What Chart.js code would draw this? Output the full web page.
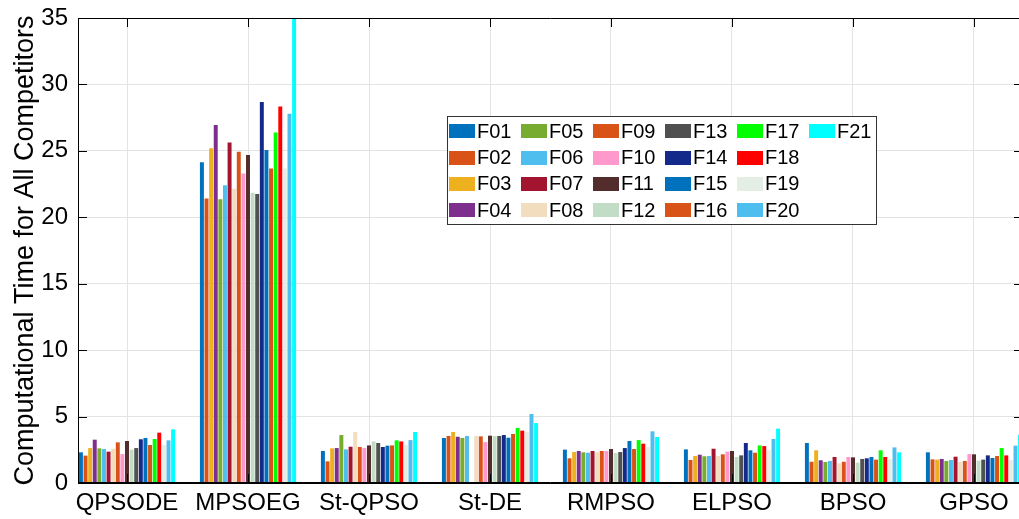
<!DOCTYPE html>
<html>
<head>
<meta charset="utf-8">
<title>Computational Time for All Competitors</title>
<script src="https://cdn.jsdelivr.net/npm/chart.js@4.4.0/dist/chart.umd.min.js"></script>
<style>
  html, body { margin: 0; padding: 0; background: #fff; overflow: hidden; }
  #wrap { position: relative; width: 1032px; height: 519px; }
</style>
</head>
<body>
<div id="wrap"><canvas id="timeChart"></canvas></div>
<script>
// Algorithms on the x axis
const categories = ['QPSODE', 'MPSOEG', 'St-QPSO', 'St-DE', 'RMPSO', 'ELPSO', 'BPSO', 'GPSO'];

// Benchmark functions (one bar per function inside each group)
const functions = ['F01', 'F02', 'F03', 'F04', 'F05', 'F06', 'F07', 'F08', 'F09', 'F10', 'F11',
                   'F12', 'F13', 'F14', 'F15', 'F16', 'F17', 'F18', 'F19', 'F20', 'F21'];

const funcColors = ['#0072BD', '#D95319', '#EDB120', '#7E2F8E', '#77AC30', '#4DBEEE', '#A2142F',
                    '#F2DEBF', '#D95319', '#FF99CC', '#532D2B', '#C2DDC5', '#505050', '#142A8A',
                    '#0072BD', '#D95319', '#00FF00', '#FF0000', '#E4EEE4', '#4DBEEE', '#00FFFF'];

// Computational time per algorithm, F01..F21
const qpsode = [2.31, 2.06, 2.63, 3.26, 2.61, 2.56, 2.36, 2.58, 3.06, 2.18, 3.16, 2.51, 2.63, 3.29, 3.39, 2.86, 3.31, 3.79, 2.86, 3.21, 4.04];
const mpsoeg = [24.15, 21.42, 25.2, 26.94, 21.35, 22.42, 25.63, 22.12, 24.93, 23.3, 24.68, 21.85, 21.75, 28.67, 25.06, 23.68, 26.39, 28.34, 23.68, 27.79, 35.0];
const stqpso = [2.41, 1.63, 2.61, 2.63, 3.61, 2.53, 2.73, 3.84, 2.71, 2.63, 2.83, 3.13, 3.01, 2.71, 2.81, 2.83, 3.21, 3.13, 2.88, 3.23, 3.84];
const stde   = [3.39, 3.54, 3.84, 3.48, 3.39, 3.54, 0, 3.54, 3.51, 3.08, 3.56, 3.54, 3.54, 3.61, 3.41, 3.69, 4.14, 3.94, 3.84, 5.19, 4.51];
const rmpso  = [2.51, 1.86, 2.33, 2.41, 2.31, 2.28, 2.41, 2.31, 2.41, 2.41, 2.56, 2.26, 2.33, 2.63, 3.16, 2.56, 3.23, 2.96, 2.71, 3.89, 3.46];
const elpso  = [2.53, 1.73, 2.03, 2.13, 2.01, 2.03, 2.58, 2.03, 2.16, 2.36, 2.41, 1.96, 2.08, 3.01, 2.46, 2.28, 2.83, 2.78, 2.48, 3.31, 4.09];
const bpso   = [3.01, 1.6, 2.46, 1.71, 1.58, 1.66, 1.96, 1.48, 1.6, 1.96, 1.93, 1.53, 1.81, 1.86, 1.96, 1.76, 2.46, 1.96, 1.81, 2.68, 2.31];
const gpso   = [2.31, 1.78, 1.76, 1.81, 1.66, 1.73, 1.98, 1.58, 1.66, 2.18, 2.16, 1.68, 1.76, 2.08, 1.88, 2.03, 2.63, 2.08, 1.73, 2.81, 3.64];

const groups = [qpsode, mpsoeg, stqpso, stde, rmpso, elpso, bpso, gpso];

const yTicks = [0, 5, 10, 15, 20, 25, 30, 35];

const FONT = "'Liberation Sans', Arial, sans-serif";

// One dataset per function, x = group position 1..8
const datasets = functions.map((name, i) => ({
    label: name,
    data: groups.map((vals, g) => ({ x: g + 1, y: vals[i] })),
    backgroundColor: funcColors[i],
    borderWidth: 0,
    categoryPercentage: 0.8,
    barPercentage: 0.86
}));

// Box, inward tick marks and the column-wise legend
const matlabFrame = {
    id: 'matlabFrame',
    afterDatasetsDraw(chart) {
        const { ctx, chartArea: a, scales: { x, y } } = chart;
        ctx.save();
        ctx.strokeStyle = '#000';
        ctx.lineWidth = 1;
        ctx.beginPath();
        ctx.moveTo(a.left + 0.5, a.top); ctx.lineTo(a.left + 0.5, a.bottom);
        ctx.moveTo(a.left, a.bottom - 0.5); ctx.lineTo(a.right, a.bottom - 0.5);
        ctx.moveTo(a.left, a.top + 0.5); ctx.lineTo(a.right, a.top + 0.5);
        ctx.moveTo(a.right - 0.5, a.top); ctx.lineTo(a.right - 0.5, a.bottom);
        y.ticks.forEach(t => {
            const py = Math.round(y.getPixelForValue(t.value)) + 0.5;
            ctx.moveTo(a.left, py); ctx.lineTo(a.left + 9, py);
            ctx.moveTo(a.right, py); ctx.lineTo(a.right - 9, py);
        });
        x.ticks.forEach(t => {
            const px = Math.round(x.getPixelForValue(t.value)) + 0.5;
            ctx.moveTo(px, a.bottom); ctx.lineTo(px, a.bottom - 9);
            ctx.moveTo(px, a.top); ctx.lineTo(px, a.top + 9);
        });
        ctx.stroke();
        ctx.restore();
    },
    afterDraw(chart) {
        const ctx = chart.ctx;
        const box = { left: 447, top: 116, right: 877, bottom: 225 };
        ctx.save();
        ctx.fillStyle = '#fff';
        ctx.fillRect(box.left, box.top, box.right - box.left, box.bottom - box.top);
        ctx.strokeStyle = '#333';
        ctx.lineWidth = 1;
        ctx.strokeRect(box.left + 0.5, box.top + 0.5, box.right - box.left - 1, box.bottom - box.top - 1);
        ctx.font = '20px ' + FONT;
        ctx.textBaseline = 'middle';
        ctx.textAlign = 'left';
        functions.forEach((name, i) => {
            const col = Math.floor(i / 4);
            const row = i % 4;
            const sx = 449 + col * 72;
            const cy = 131.3 + row * 26.3;
            ctx.fillStyle = funcColors[i];
            ctx.fillRect(sx, Math.round(cy - 7), 26, 14);
            ctx.fillStyle = '#000';
            ctx.fillText(name, sx + 28, cy + 1);
        });
        ctx.restore();
    }
};

new Chart(document.getElementById('timeChart'), {
    type: 'bar',
    data: { datasets: datasets },
    options: {
        responsive: true,
        maintainAspectRatio: false,
        animation: false,
        layout: { padding: { left: 0, top: 18, right: 9, bottom: 0 } },
        plugins: { legend: { display: false }, tooltip: { enabled: false } },
        scales: {
            x: {
                type: 'linear',
                min: 0.595,
                max: 8.405,
                offset: false,
                afterBuildTicks: axis => { axis.ticks = categories.map((c, i) => ({ value: i + 1 })); },
                afterFit: scale => { scale.height = 36; scale.paddingLeft = 0; scale.paddingRight = 0; },
                grid: { color: '#e3e3e3', drawTicks: false, offset: false },
                border: { display: true, color: '#000' },
                ticks: {
                    autoSkip: false,
                    maxRotation: 0,
                    padding: 6,
                    color: '#000',
                    font: { family: FONT, size: 24 },
                    callback: value => categories[value - 1]
                }
            },
            y: {
                min: 0,
                max: 35,
                afterBuildTicks: axis => { axis.ticks = yTicks.map(v => ({ value: v })); },
                afterFit: scale => { scale.width = 78; scale.paddingTop = 0; scale.paddingBottom = 0; },
                grid: { color: '#e3e3e3', drawTicks: false },
                border: { display: true, color: '#000' },
                ticks: {
                    padding: 10,
                    color: '#000',
                    font: { family: FONT, size: 24 }
                },
                title: {
                    display: true,
                    text: 'Computational Time for All Competitors',
                    color: '#000',
                    font: { family: FONT, size: 27 },
                    padding: { top: 9, bottom: 0 }
                }
            }
        }
    },
    plugins: [matlabFrame]
});
</script>
</body>
</html>
